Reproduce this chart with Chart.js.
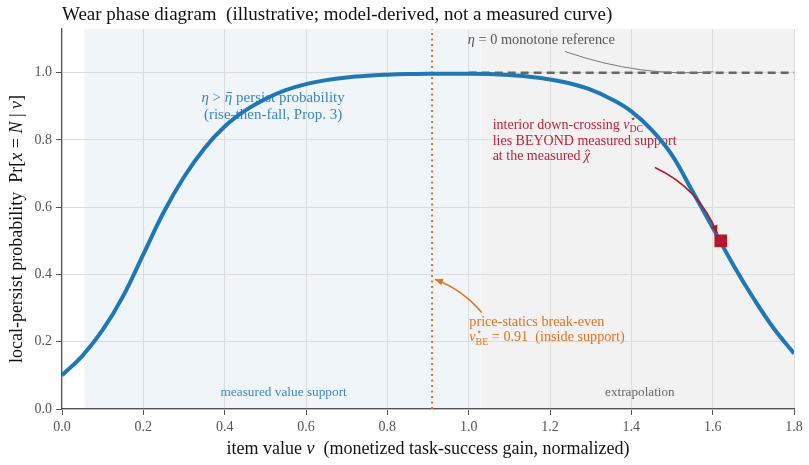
<!DOCTYPE html>
<html>
<head>
<meta charset="utf-8">
<script src="https://cdn.jsdelivr.net/npm/chart.js@4.4.0/dist/chart.umd.min.js"></script>
<style>
  html, body { margin: 0; padding: 0; background: #fff; }
  #wrap { width: 809px; height: 465px; position: relative; }
</style>
</head>
<body>
<div id="wrap"><canvas id="chart"></canvas></div>
<script>
// values
const nuValues = [0, 0.05, 0.1, 0.15, 0.2, 0.25, 0.3, 0.35, 0.4, 0.45, 0.5, 0.55, 0.6, 0.65, 0.7, 0.75, 0.8, 0.85, 0.9, 0.95,
                  1.0, 1.05, 1.1, 1.15, 1.2, 1.25, 1.3, 1.35, 1.4, 1.45, 1.5, 1.55, 1.6, 1.65, 1.7, 1.75, 1.8];
const persistProb = [0.10, 0.158, 0.235, 0.335, 0.46, 0.585, 0.69, 0.775, 0.84, 0.887, 0.922, 0.948, 0.966, 0.978, 0.986, 0.991, 0.994, 0.996, 0.997, 0.997,
                     0.997, 0.996, 0.993, 0.988, 0.98, 0.968, 0.95, 0.922, 0.885, 0.83, 0.755, 0.648, 0.54, 0.43, 0.33, 0.24, 0.165];
const refNu = [1.0, 1.8];
const refProb = [1.0, 1.0];
const breakEvenNu = 0.91;
const downCrossNu = 1.62;
const downCrossProb = 0.50;
const supportRange = [0.055, 1.03];
const extrapRange = [1.03, 1.8];
const xTicks = [0, 0.2, 0.4, 0.6, 0.8, 1.0, 1.2, 1.4, 1.6, 1.8];
const yTicks = [0, 0.2, 0.4, 0.6, 0.8, 1.0];
const yMax = 1.13;

const SERIF = '"Liberation Serif", "DejaVu Serif", serif';
const BLUE = '#1f77b4';
const RED = '#b2182b';
const ORANGE = '#e8711a';

function runFont(size, it) {
    return (it ? 'italic ' : '') + size + 'px ' + SERIF;
}

function runsWidth(ctx, runs, size) {
    let w = 0;
    runs.forEach(r => {
        if (r.sup !== undefined || r.sub !== undefined) {
            ctx.font = runFont(size * 0.7, false);
            w += Math.max(ctx.measureText(r.sup || '').width, ctx.measureText(r.sub || '').width);
        } else {
            ctx.font = runFont(size, r.it);
            w += ctx.measureText(r.t).width;
        }
    });
    return w;
}

// text runs with italic pieces, stacked sup/sub and simple accents (bar, hat)
function drawRuns(ctx, runs, x, y, size, color, align) {
    ctx.save();
    ctx.fillStyle = color;
    ctx.strokeStyle = color;
    ctx.textBaseline = 'middle';
    ctx.textAlign = 'left';
    let cx = align === 'center' ? x - runsWidth(ctx, runs, size) / 2 : x;
    runs.forEach(r => {
        if (r.sup !== undefined || r.sub !== undefined) {
            ctx.font = runFont(size * 0.7, false);
            const w = Math.max(ctx.measureText(r.sup || '').width, ctx.measureText(r.sub || '').width);
            if (r.sup) ctx.fillText(r.sup, cx, y - size * 0.38);
            if (r.sub) ctx.fillText(r.sub, cx, y + size * 0.3);
            cx += w;
        } else {
            ctx.font = runFont(size, r.it);
            ctx.fillText(r.t, cx, y);
            const w = ctx.measureText(r.t).width;
            if (r.bar) {
                ctx.lineWidth = Math.max(1, size * 0.07);
                ctx.beginPath();
                ctx.moveTo(cx + w * 0.25, y - size * 0.36);
                ctx.lineTo(cx + w * 0.95, y - size * 0.36);
                ctx.stroke();
            }
            if (r.hat) {
                ctx.lineWidth = Math.max(1, size * 0.06);
                const hx = cx + w * 0.6;
                ctx.beginPath();
                ctx.moveTo(hx - size * 0.17, y - size * 0.36);
                ctx.lineTo(hx, y - size * 0.52);
                ctx.lineTo(hx + size * 0.17, y - size * 0.36);
                ctx.stroke();
            }
            cx += w;
        }
    });
    ctx.restore();
}

function curvedArrow(ctx, p0, c, p1, color, width, head) {
    ctx.save();
    ctx.strokeStyle = color;
    ctx.fillStyle = color;
    ctx.lineWidth = width;
    ctx.beginPath();
    ctx.moveTo(p0.x, p0.y);
    ctx.quadraticCurveTo(c.x, c.y, p1.x, p1.y);
    ctx.stroke();
    if (head) {
        const a = Math.atan2(p1.y - c.y, p1.x - c.x);
        const L = 8, W = 3.5;
        ctx.beginPath();
        ctx.moveTo(p1.x, p1.y);
        ctx.lineTo(p1.x - L * Math.cos(a) + W * Math.sin(a), p1.y - L * Math.sin(a) - W * Math.cos(a));
        ctx.lineTo(p1.x - L * Math.cos(a) - W * Math.sin(a), p1.y - L * Math.sin(a) + W * Math.cos(a));
        ctx.closePath();
        ctx.fill();
    }
    ctx.restore();
}

const decorPlugin = {
    id: 'decor',
    beforeDraw(chart) {
        const { ctx, chartArea, scales } = chart;
        const x = scales.x;
        ctx.save();
        ctx.fillStyle = '#f0f5fa';
        ctx.fillRect(x.getPixelForValue(supportRange[0]), chartArea.top,
            x.getPixelForValue(supportRange[1]) - x.getPixelForValue(supportRange[0]), chartArea.bottom - chartArea.top);
        ctx.fillStyle = '#f2f2f2';
        ctx.fillRect(x.getPixelForValue(extrapRange[0]), chartArea.top,
            x.getPixelForValue(extrapRange[1]) - x.getPixelForValue(extrapRange[0]), chartArea.bottom - chartArea.top);
        ctx.restore();
    },
    beforeDatasetsDraw(chart) {
        const { ctx, scales } = chart;
        const X = v => scales.x.getPixelForValue(v);
        const Y = v => scales.y.getPixelForValue(v);

        drawRuns(ctx, [{ t: 'η', it: true }, { t: ' > ' }, { t: 'η', it: true, bar: true }, { t: ' persist probability' }],
            X(0.519), Y(0.925), 15, '#3a86c0', 'center');
        drawRuns(ctx, [{ t: '(rise-then-fall, Prop. 3)' }], X(0.519), Y(0.874), 15, '#3a86c0', 'center');

        drawRuns(ctx, [{ t: 'interior down-crossing ' }, { t: 'ν', it: true }, { sup: '⋆', sub: 'DC' }],
            X(1.059), Y(0.845), 14, '#c02038', 'left');
        drawRuns(ctx, [{ t: 'lies BEYOND measured support' }], X(1.059), Y(0.796), 14, '#c02038', 'left');
        drawRuns(ctx, [{ t: 'at the measured ' }, { t: 'χ', it: true, hat: true }], X(1.059), Y(0.750), 14, '#c02038', 'left');

        drawRuns(ctx, [{ t: 'price-statics break-even' }], X(1.0016), Y(0.259), 14.2, ORANGE, 'left');
        drawRuns(ctx, [{ t: 'ν', it: true }, { sup: '⋆', sub: 'BE' }, { t: ' = 0.91  (inside support)' }],
            X(1.0016), Y(0.212), 14.2, ORANGE, 'left');

        drawRuns(ctx, [{ t: 'η', it: true }, { t: ' = 0 monotone reference' }], X(0.998), Y(1.097), 14.3, '#555', 'left');

        drawRuns(ctx, [{ t: 'measured value support' }], X(0.545), Y(0.05), 13.3, '#3f88c2', 'center');
        drawRuns(ctx, [{ t: 'extrapolation' }], X(1.421), Y(0.05), 13.2, '#666', 'center');
    },
    afterDatasetsDraw(chart) {
        const { ctx, scales } = chart;
        const P = (a, b) => ({ x: scales.x.getPixelForValue(a), y: scales.y.getPixelForValue(b) });
        curvedArrow(ctx, P(1.237, 1.063), P(1.424, 0.985), P(1.602, 1.003), '#777', 1, false);
        curvedArrow(ctx, P(1.458, 0.718), P(1.566, 0.657), P(1.611, 0.523), RED, 1.5, true);
        curvedArrow(ctx, P(1.032, 0.287), P(0.986, 0.354), P(0.917, 0.386), ORANGE, 1.5, true);
    },
    afterDraw(chart) {
        const { ctx, chartArea } = chart;
        drawRuns(ctx, [{ t: 'Wear phase diagram  (illustrative; model-derived, not a measured curve)' }],
            chartArea.left, 15, 19, '#111', 'left');
        drawRuns(ctx, [{ t: 'item value ' }, { t: 'ν', it: true }, { t: '  (monetized task-success gain, normalized)' }],
            (chartArea.left + chartArea.right) / 2, 449, 18, '#111', 'center');
        ctx.save();
        ctx.translate(17, (chartArea.top + chartArea.bottom) / 2 + 10);
        ctx.rotate(-Math.PI / 2);
        drawRuns(ctx, [{ t: 'local-persist probability  Pr[' }, { t: 'x', it: true }, { t: ' = ' }, { t: 'N', it: true },
            { t: ' | ' }, { t: 'ν', it: true }, { t: ']' }], 0, 0, 18, '#111', 'center');
        ctx.restore();
    }
};

const axisTicks = { color: '#555', font: { family: SERIF, size: 14 }, padding: 4 };

new Chart(document.getElementById('chart'), {
    type: 'line',
    data: {
        datasets: [
            {
                label: 'down-crossing',
                data: [{ x: downCrossNu, y: downCrossProb }],
                showLine: false,
                pointStyle: 'rect',
                pointRadius: 9,
                backgroundColor: RED,
                borderColor: RED,
                borderWidth: 0,
                order: 0
            },
            {
                label: 'persist',
                data: nuValues.map((v, i) => ({ x: v, y: persistProb[i] })),
                borderColor: BLUE,
                borderWidth: 4,
                pointRadius: 0,
                tension: 0.4,
                order: 1
            },
            {
                label: 'reference',
                data: refNu.map((v, i) => ({ x: v, y: refProb[i] })),
                borderColor: '#666',
                borderWidth: 2.5,
                borderDash: [8, 5],
                pointRadius: 0,
                order: 2
            },
            {
                label: 'break-even',
                data: [{ x: breakEvenNu, y: 0 }, { x: breakEvenNu, y: yMax }],
                borderColor: ORANGE,
                borderWidth: 2,
                borderDash: [2, 3.5],
                pointRadius: 0,
                order: 3
            }
        ]
    },
    options: {
        responsive: true,
        maintainAspectRatio: false,
        animation: false,
        layout: { padding: { top: 29, right: 15, left: 0, bottom: 0 } },
        plugins: { legend: { display: false }, tooltip: { enabled: false } },
        scales: {
            x: {
                type: 'linear',
                min: 0,
                max: 1.8,
                afterBuildTicks: s => { s.ticks = xTicks.map(v => ({ value: v })); },
                afterFit: s => { s.height = 56; },
                ticks: { ...axisTicks, callback: v => v.toFixed(1) },
                grid: { color: '#dcdcdc', tickColor: '#555', tickLength: 6 },
                border: { color: '#555', width: 1.2 }
            },
            y: {
                type: 'linear',
                min: 0,
                max: yMax,
                afterBuildTicks: s => { s.ticks = yTicks.map(v => ({ value: v })); },
                afterFit: s => { s.width = 62; },
                ticks: { ...axisTicks, callback: v => v.toFixed(1) },
                grid: { color: '#dcdcdc', tickColor: '#555', tickLength: 6 },
                border: { color: '#555', width: 1.2 }
            }
        }
    },
    plugins: [decorPlugin]
});
</script>
</body>
</html>
